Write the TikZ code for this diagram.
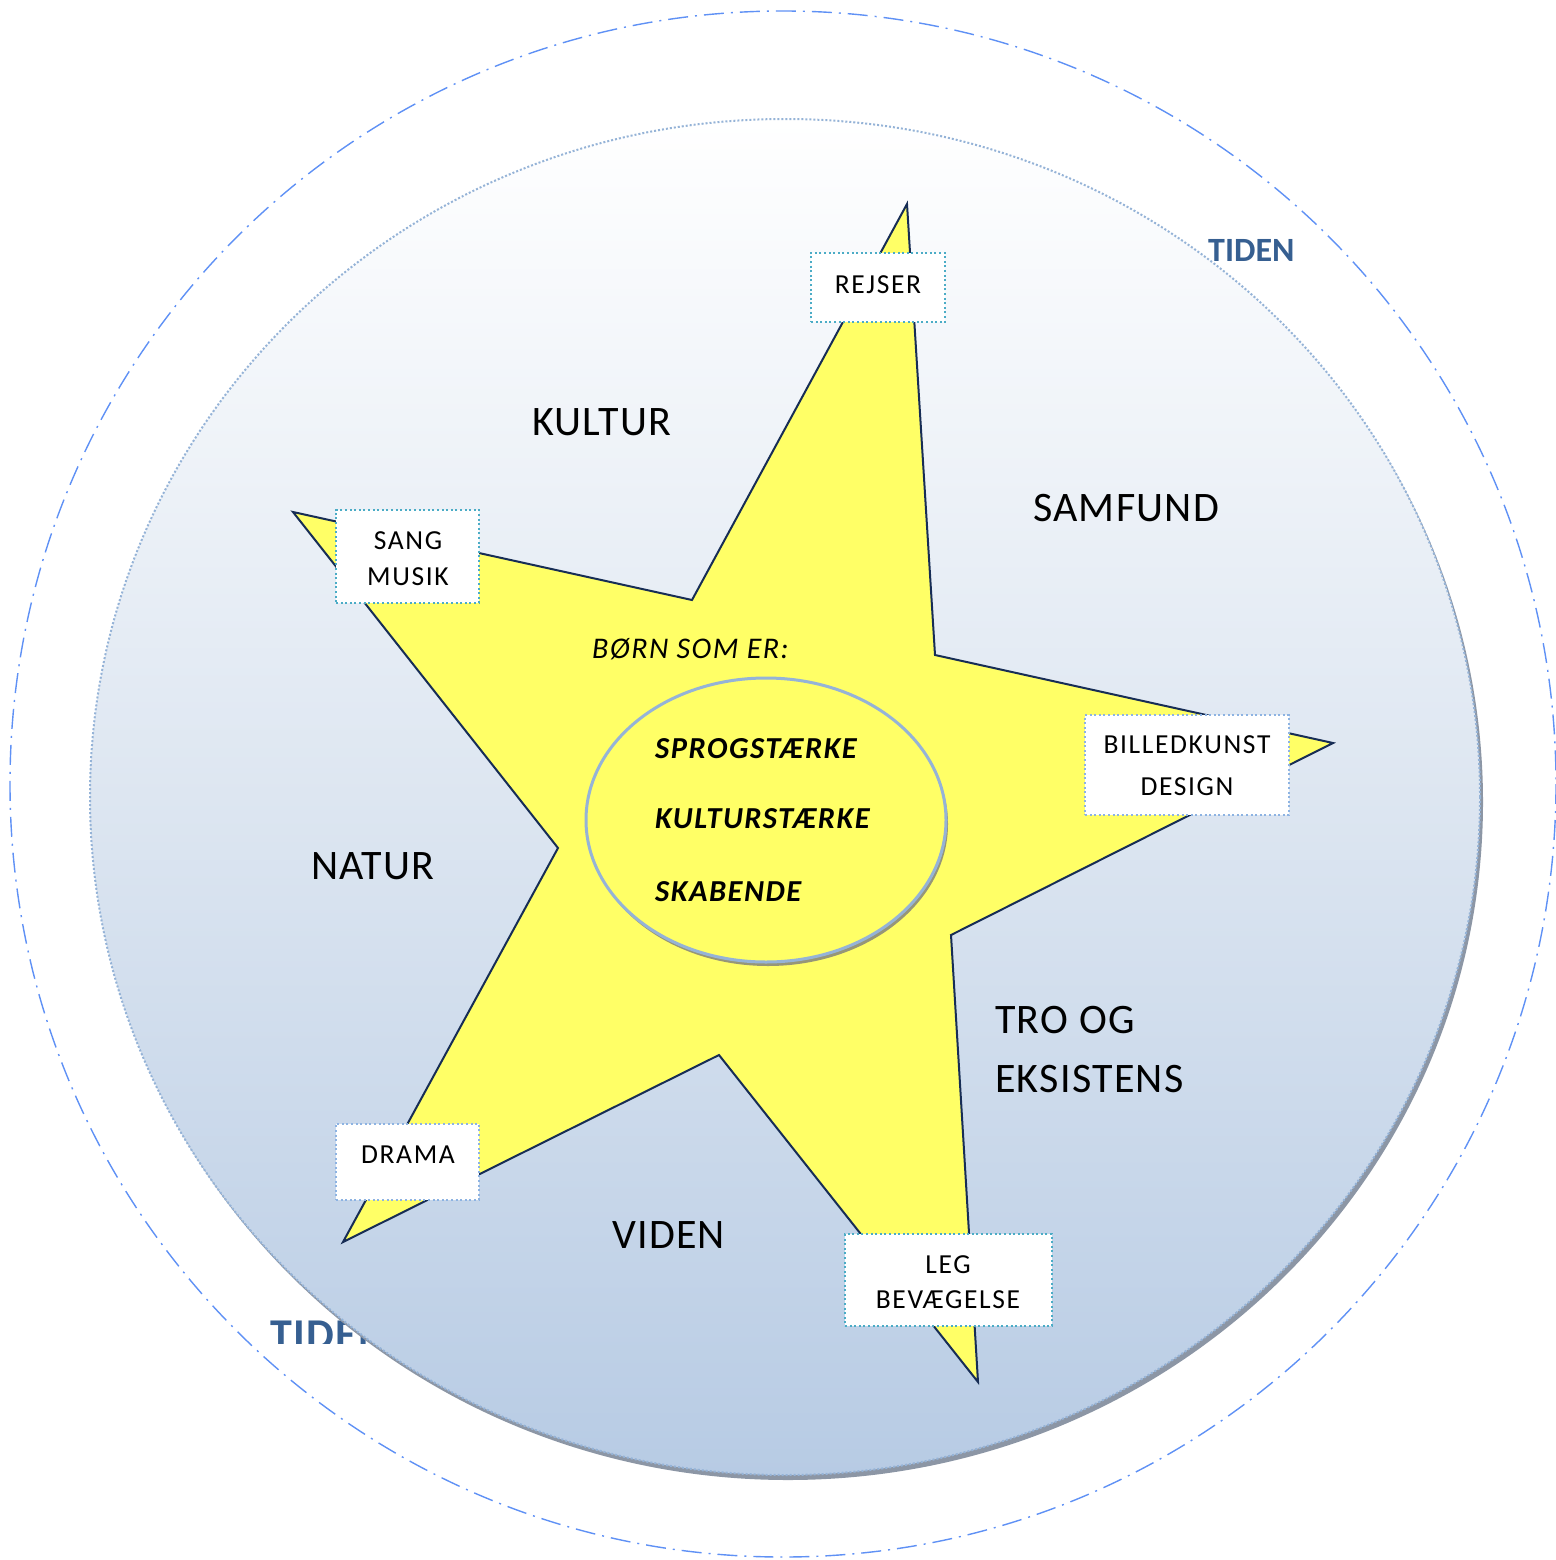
\documentclass[tikz,border=0pt]{standalone}
\usepackage{fontspec}
\setmainfont{Carlito}
\newfontfamily\regfont[LetterSpace=3]{Carlito}
\newfontfamily\boxfont[LetterSpace=6]{Carlito}
\newfontfamily\midfont[LetterSpace=5]{Carlito}
\definecolor{starfill}{RGB}{255,255,102}
\definecolor{starline}{RGB}{23,45,85}
\definecolor{outerdash}{RGB}{95,145,245}
\definecolor{ringdot}{RGB}{149,179,215}
\definecolor{bgbottom}{RGB}{183,203,228}
\definecolor{bgmid}{RGB}{221,230,241}
\definecolor{ringshadow}{RGB}{140,150,165}
\definecolor{ellshadow}{RGB}{150,150,120}
\definecolor{teal}{RGB}{75,172,198}
\definecolor{lightblue}{RGB}{141,179,226}
\definecolor{tidenblue}{RGB}{54,95,145}
\begin{document}
\begin{tikzpicture}[x=1pt,y=-1pt,
  boxbase/.style={rectangle,fill=white,line width=2pt,dash pattern=on 2pt off 2.6pt,inner sep=0pt},
  tealbox/.style={boxbase,draw=teal},
  bluebox/.style={boxbase,draw=lightblue},
  boxtext/.style={anchor=base,inner sep=0pt,font=\boxfont\fontsize{27.5}{32}\selectfont},
  region/.style={anchor=base west,inner sep=0pt,font=\regfont\fontsize{42}{48}\selectfont},
  inner/.style={anchor=base west,inner sep=0pt,font=\midfont\fontsize{30.5}{36}\selectfont\bfseries\itshape},
  tiden/.style={anchor=base west,inner sep=0pt,text=tidenblue}
]
\useasboundingbox (0,0) rectangle (1555,1560);
% outer dash-dot circle
\draw[outerdash,line width=1.4pt,dash pattern=on 20pt off 7pt on 2pt off 7pt] (783,784) circle[radius=773];
% bottom TIDEN (behind the ring, clipped)
\begin{scope}
\clip (200,1290) rectangle (500,1343);
\node[tiden,font=\regfont\fontsize{44}{50}\selectfont\bfseries] (tidenb) at (270,1349) {TIDEN};
\end{scope}
% ring shadow
\fill[ringshadow] (788,802) ellipse[x radius=695,y radius=678];
% ring gradient
\shade[top color=white,bottom color=bgbottom,middle color=bgmid] (785,797) ellipse[x radius=695,y radius=678];
\draw[ringdot,line width=2pt,dash pattern=on 2pt off 2pt] (785,797) ellipse[x radius=695,y radius=678];
% star
\coordinate (ptop) at (907,204);
\coordinate (iA) at (935,655);
\coordinate (pright) at (1333,743);
\coordinate (iB) at (951,935);
\coordinate (pbottom) at (978,1382);
\coordinate (iC) at (719,1055);
\coordinate (pbl) at (343,1242);
\coordinate (iD) at (558,848);
\coordinate (pleft) at (293,512);
\coordinate (iE) at (692,600);
\draw[fill=starfill,draw=starline,line width=2pt,line join=miter]
  (ptop) -- (iA) -- (pright) -- (iB) -- (pbottom) -- (iC) -- (pbl) -- (iD) -- (pleft) -- (iE) -- cycle;
% central ellipse
\fill[ellshadow] (768,824) ellipse[x radius=180,y radius=142];
\draw[fill=starfill,draw=ringdot,line width=3pt] (766,820) ellipse[x radius=180,y radius=142];
% boxes
\node[tealbox,minimum width=134pt,minimum height=69pt] (rejser) at (878,287.5) {};
\node[tealbox,minimum width=143pt,minimum height=93pt] (sang) at (407.5,556.5) {};
\node[bluebox,minimum width=204pt,minimum height=100pt] (bill) at (1187,765) {};
\node[bluebox,minimum width=143pt,minimum height=76pt] (drama) at (407.5,1162) {};
\node[tealbox,minimum width=207pt,minimum height=92pt] (leg) at (948.5,1280) {};
% box texts
\node[boxtext] (trejser) at (878,293) {REJSER};
\node[boxtext] (tsang) at (408,549) {SANG};
\node[boxtext] (tmusik) at (408,585) {MUSIK};
\node[boxtext] (tbill) at (1187,753) {BILLEDKUNST};
\node[boxtext] (tdesign) at (1187,795) {DESIGN};
\node[boxtext] (tdrama) at (408,1163) {DRAMA};
\node[boxtext] (tleg) at (948,1273) {LEG};
\node[boxtext] (tbev) at (948,1308) {BEVÆGELSE};
% region labels
\node[region] (kultur) at (532,435) {KULTUR};
\node[region] (samfund) at (1033,521) {SAMFUND};
\node[region] (natur) at (311,879) {NATUR};
\node[region] (tro) at (995,1033) {TRO OG};
\node[region] (eksist) at (995,1092) {EKSISTENS};
\node[region] (viden) at (612,1248) {VIDEN};
% centre texts
\node[anchor=base west,inner sep=0pt,font=\midfont\fontsize{30}{36}\selectfont\itshape] (born) at (592,658) {BØRN SOM ER:};
\node[inner] (sprog) at (655,758) {SPROGSTÆRKE};
\node[inner] (kult) at (655,828) {KULTURSTÆRKE};
\node[inner] (skab) at (655,901) {SKABENDE};
% top TIDEN
\node[tiden,font=\fontsize{34}{40}\selectfont\bfseries] (tident) at (1208,261) {TIDEN};
\end{tikzpicture}
\end{document}
